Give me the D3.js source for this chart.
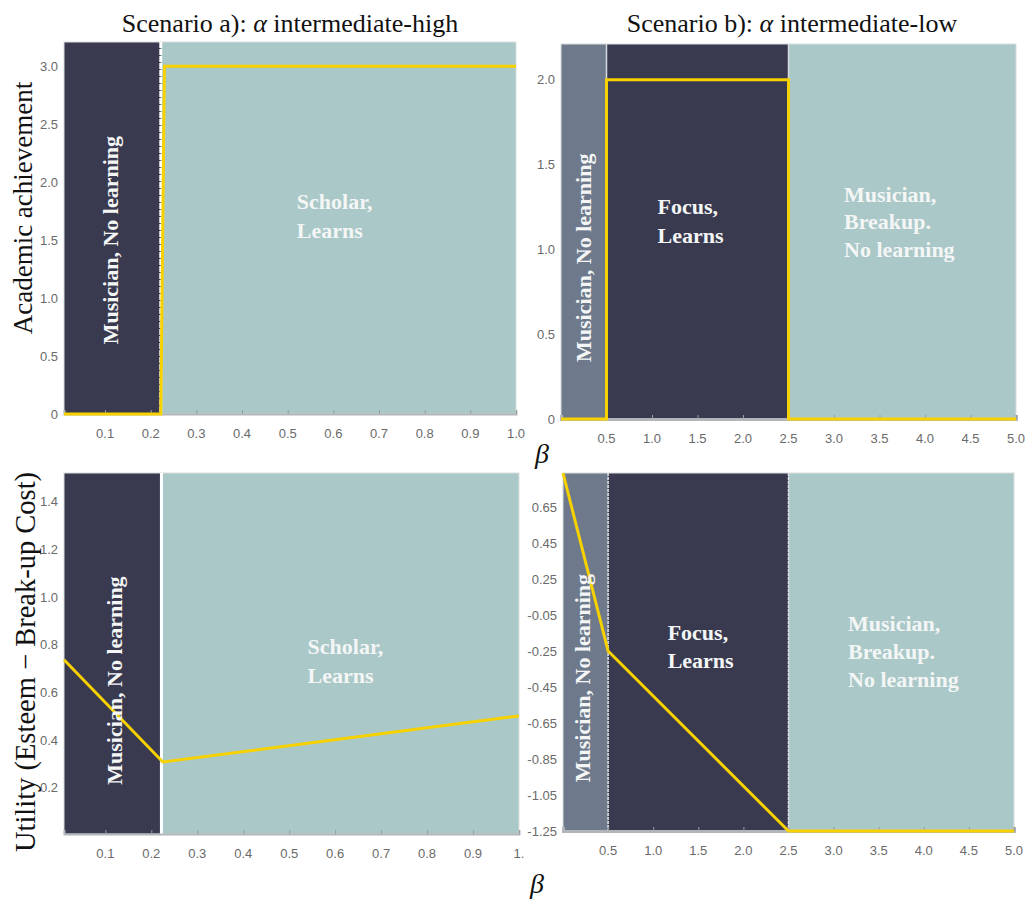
<!DOCTYPE html>
<html>
<head>
<meta charset="utf-8">
<script src="https://cdn.jsdelivr.net/npm/d3@7/dist/d3.min.js"></script>
<style>
  html, body { margin: 0; padding: 0; background: #ffffff; }
  svg { display: block; }
  .tick-label { font-family: "Liberation Sans", Arial, sans-serif; font-size: 13px; fill: #6a6a6a; }
  .serif { font-family: "Liberation Serif", "Times New Roman", serif; }
  .regime { font-family: "Liberation Serif", "Times New Roman", serif; font-weight: bold; font-size: 22px; fill: #f4f6f6; }
</style>
</head>
<body>
<svg id="chart" width="1034" height="906"></svg>
<script>
// ---- Scenario a): alpha intermediate-high ----
const achievementBetaA = [0.01, 0.222, 0.23, 1.0];
const achievementA     = [0, 0, 3, 3];
const utilityBetaA     = [0.01, 0.225, 1.0];
const utilityA         = [0.737, 0.309, 0.502];
const regimeEdgesA     = [0.01, 0.222, 1.0];
const regimeKindsA     = ["dark", "teal"];

// ---- Scenario b): alpha intermediate-low ----
const achievementBetaB = [0, 0.5, 0.5, 2.5, 2.5, 5.0];
const achievementB     = [0, 0, 2, 2, 0, 0];
const utilityBetaB     = [0, 0.5, 2.5, 5.0];
const utilityB         = [0.74, -0.25, -1.25, -1.25];
const regimeEdgesB     = [0, 0.5, 2.5, 5.0];
const regimeKindsB     = ["slate", "dark", "teal"];

// ---- tick values and their printed labels ----
const betaTicksA        = [0.1, 0.2, 0.3, 0.4, 0.5, 0.6, 0.7, 0.8, 0.9, 1.0];
const betaLabelsTopA    = ["0.1", "0.2", "0.3", "0.4", "0.5", "0.6", "0.7", "0.8", "0.9", "1.0"];
const betaLabelsBottomA = ["0.1", "0.2", "0.3", "0.4", "0.5", "0.6", "0.7", "0.8", "0.9", "1."];
const betaTicksB        = [0.5, 1.0, 1.5, 2.0, 2.5, 3.0, 3.5, 4.0, 4.5, 5.0];
const betaLabelsB       = ["0.5", "1.0", "1.5", "2.0", "2.5", "3.0", "3.5", "4.0", "4.5", "5.0"];
const achTicksA         = [0, 0.5, 1.0, 1.5, 2.0, 2.5, 3.0];
const achLabelsA        = ["0", "0.5", "1.0", "1.5", "2.0", "2.5", "3.0"];
const achTicksB         = [0, 0.5, 1.0, 1.5, 2.0];
const achLabelsB        = ["0", "0.5", "1.0", "1.5", "2.0"];
const utilTicksA        = [0.2, 0.4, 0.6, 0.8, 1.0, 1.2, 1.4];
const utilLabelsA       = ["0.2", "0.4", "0.6", "0.8", "1.0", "1.2", "1.4"];
const utilTicksB        = [-1.25, -1.05, -0.85, -0.65, -0.45, -0.25, -0.05, 0.15, 0.35, 0.55];
const utilLabelsB       = ["-1.25", "-1.05", "-0.85", "-0.65", "-0.45", "-0.25", "-0.05", "0.25", "0.45", "0.65"];

const fills = { dark: "#393a4f", teal: "#aac8c8", slate: "#6e7a8b" };
const lineColor = "#f7d100";

const svg = d3.select("#chart");

function panel(cfg) {
  const x = d3.scaleLinear().domain(cfg.xDomain).range(cfg.xRange);
  const y = d3.scaleLinear().domain(cfg.yDomain).range(cfg.yRange);
  const g = svg.append("g");

  // regime bands
  const bands = cfg.kinds.map((k, i) => ({ kind: k, x0: cfg.edges[i], x1: cfg.edges[i + 1] }));
  g.selectAll("rect.band").data(bands).join("rect")
    .attr("class", "band")
    .attr("x", d => x(d.x0))
    .attr("width", d => x(d.x1) - x(d.x0))
    .attr("y", y(cfg.yDomain[1]))
    .attr("height", y(cfg.yDomain[0]) - y(cfg.yDomain[1]))
    .attr("fill", d => fills[d.kind]);

  // frame
  g.append("rect")
    .attr("x", cfg.xRange[0]).attr("y", cfg.yRange[1])
    .attr("width", cfg.xRange[1] - cfg.xRange[0])
    .attr("height", cfg.yRange[0] - cfg.yRange[1])
    .attr("fill", "none").attr("stroke", "#d9dede").attr("stroke-width", 1);

  // regime dividers
  g.selectAll("line.div").data(cfg.edges.slice(1, -1)).join("line")
    .attr("class", "div")
    .attr("x1", d => x(d)).attr("x2", d => x(d))
    .attr("y1", y(cfg.yDomain[1])).attr("y2", y(cfg.yDomain[0]))
    .attr("stroke", cfg.dividerColor).attr("stroke-width", cfg.dividerWidth)
    .attr("stroke-dasharray", cfg.dividerDash || null);

  // bottom axis line with inward ticks
  const xAxis = d3.axisBottom(x).tickValues(cfg.xTicks).tickSize(-4).tickFormat("");
  const ax = g.append("g").attr("transform", `translate(0,${cfg.yRange[0]})`).call(xAxis);
  ax.select(".domain").attr("stroke", "#b3b6b8").attr("stroke-width", cfg.axisWidth);
  ax.selectAll(".tick line").attr("stroke", "#9a9c9e");

  // x tick labels
  g.selectAll("text.xt").data(cfg.xTicks).join("text")
    .attr("class", "tick-label xt")
    .attr("x", d => x(d)).attr("y", cfg.yRange[0] + 24)
    .attr("text-anchor", "middle")
    .text((d, i) => cfg.xLabels[i]);

  // y tick labels
  g.selectAll("text.yt").data(cfg.yTicks).join("text")
    .attr("class", "tick-label yt")
    .attr("x", cfg.xRange[0] - cfg.yLabelGap).attr("y", d => y(d) + 4.5)
    .attr("text-anchor", "end")
    .text((d, i) => cfg.yLabels[i]);

  // yellow series
  const pts = cfg.lx.map((v, i) => [v, cfg.ly[i]]);
  g.append("path")
    .datum(pts)
    .attr("d", d3.line().x(d => x(d[0])).y(d => y(d[1])))
    .attr("fill", "none").attr("stroke", lineColor)
    .attr("stroke-width", 3).attr("stroke-linejoin", "miter");

  return { g, x, y };
}

// Scenario a) academic achievement
const pA1 = panel({
  xDomain: [0.01, 1.0], xRange: [64, 516], yDomain: [0, 3.21], yRange: [414, 42],
  edges: regimeEdgesA, kinds: regimeKindsA,
  dividerColor: "#ffffff", dividerWidth: 3, dividerDash: "6,1",
  xTicks: betaTicksA, xLabels: betaLabelsTopA, yTicks: achTicksA, yLabels: achLabelsA, yLabelGap: 6,
  lx: achievementBetaA, ly: achievementA, axisWidth: 2
});
// Scenario b) academic achievement
const pB1 = panel({
  xDomain: [0, 5], xRange: [561, 1016], yDomain: [0, 2.21], yRange: [419, 44],
  edges: regimeEdgesB, kinds: regimeKindsB,
  dividerColor: "#d6d9de", dividerWidth: 1.5,
  xTicks: betaTicksB, xLabels: betaLabelsB, yTicks: achTicksB, yLabels: achLabelsB, yLabelGap: 6,
  lx: achievementBetaB, ly: achievementB, axisWidth: 3
});
// Scenario a) utility
const pA2 = panel({
  xDomain: [0.01, 1.0], xRange: [64, 519], yDomain: [0.007, 1.52], yRange: [834, 473],
  edges: regimeEdgesA, kinds: regimeKindsA,
  dividerColor: "#ffffff", dividerWidth: 3,
  xTicks: betaTicksA, xLabels: betaLabelsBottomA, yTicks: utilTicksA, yLabels: utilLabelsA, yLabelGap: 6,
  lx: utilityBetaA, ly: utilityA, axisWidth: 2
});
// Scenario b) utility
const pB2 = panel({
  xDomain: [0, 5], xRange: [563, 1014], yDomain: [-1.25, 0.74], yRange: [831, 473],
  edges: regimeEdgesB, kinds: regimeKindsB,
  dividerColor: "#e2e4e8", dividerWidth: 1.5, dividerDash: "3,1",
  xTicks: betaTicksB, xLabels: betaLabelsB, yTicks: utilTicksB, yLabels: utilLabelsB, yLabelGap: 6,
  lx: utilityBetaB, ly: utilityB, axisWidth: 3
});

// regime annotations
function vertLabel(p, cx, cy, txt) {
  p.g.append("text").attr("class", "regime")
    .attr("transform", `translate(${p.x(cx)},${p.y(cy)}) rotate(-90)`)
    .attr("text-anchor", "middle").attr("dominant-baseline", "central")
    .text(txt);
}
function blockLabel(p, bx, by, lines, lh) {
  const t = p.g.append("text").attr("class", "regime");
  lines.forEach((s, i) => {
    t.append("tspan").attr("x", p.x(bx)).attr("y", p.y(by) + i * lh).text(s);
  });
}
vertLabel(pA1, 0.112, 1.5, "Musician, No learning");
blockLabel(pA1, 0.52, 1.77, ["Scholar,", "Learns"], 29);
vertLabel(pB1, 0.25, 0.95, "Musician, No learning");
blockLabel(pB1, 1.06, 1.21, ["Focus,", "Learns"], 29);
blockLabel(pB1, 3.11, 1.28, ["Musician,", "Breakup.", "No learning"], 27.5);
vertLabel(pA2, 0.12, 0.65, "Musician, No learning");
blockLabel(pA2, 0.54, 0.76, ["Scholar,", "Learns"], 29);
vertLabel(pB2, 0.22, -0.4, "Musician, No learning");
blockLabel(pB2, 1.16, -0.19, ["Focus,", "Learns"], 28);
blockLabel(pB2, 3.16, -0.14, ["Musician,", "Breakup.", "No learning"], 28);

// column titles
const titles = [
  { x: 290, parts: ["Scenario a): ", "α", " intermediate-high"] },
  { x: 792, parts: ["Scenario b): ", "α", " intermediate-low"] }
];
titles.forEach(t => {
  const el = svg.append("text").attr("class", "serif")
    .attr("x", t.x).attr("y", 32).attr("text-anchor", "middle")
    .attr("font-size", 26).attr("fill", "#111");
  t.parts.forEach((s, i) => el.append("tspan").attr("font-style", i === 1 ? "italic" : null).text(s));
});

// y-axis titles
svg.append("text").attr("class", "serif")
  .attr("transform", "translate(23,208) rotate(-90)")
  .attr("text-anchor", "middle").attr("dominant-baseline", "central")
  .attr("font-size", 27).attr("fill", "#111")
  .text("Academic achievement");
svg.append("text").attr("class", "serif")
  .attr("transform", "translate(25,662) rotate(-90)")
  .attr("text-anchor", "middle").attr("dominant-baseline", "central")
  .attr("font-size", 28.5).attr("fill", "#111")
  .text("Utility (Esteem − Break-up Cost)");

// beta axis symbols
svg.append("text").attr("class", "serif")
  .attr("x", 542).attr("y", 463).attr("text-anchor", "middle")
  .attr("font-size", 28).attr("font-style", "italic").attr("fill", "#111")
  .text("β");
svg.append("text").attr("class", "serif")
  .attr("x", 537).attr("y", 893).attr("text-anchor", "middle")
  .attr("font-size", 28).attr("font-style", "italic").attr("fill", "#111")
  .text("β");
</script>
</body>
</html>
